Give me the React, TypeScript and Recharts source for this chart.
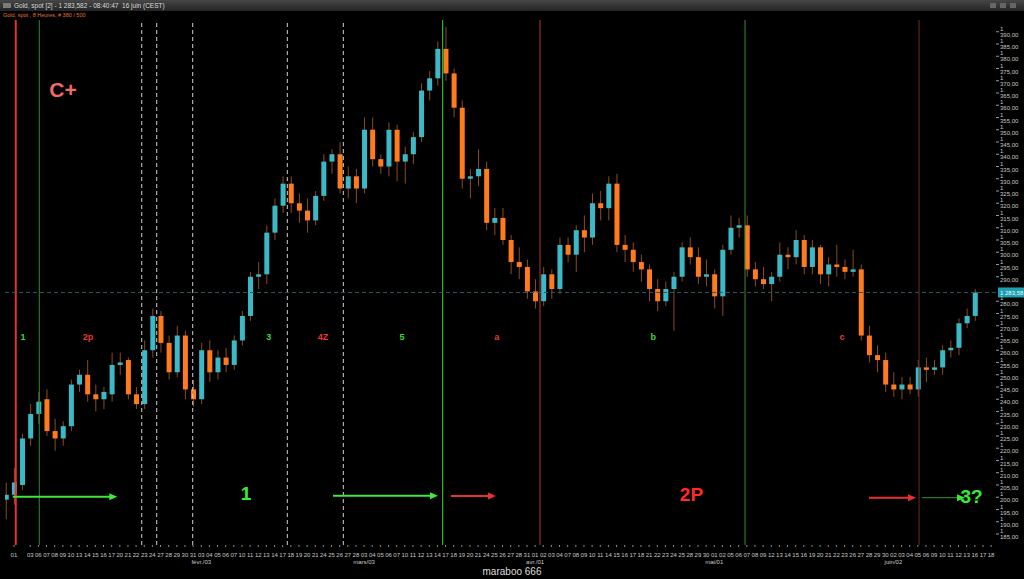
import { Bar, ComposedChart, ReferenceDot, ReferenceLine, XAxis, YAxis } from "recharts";

const FONT = "'Liberation Sans', Arial, sans-serif";
const UP = "#3cb9c6";
const DOWN = "#ff7b1c";
const WICK = "#8c4b1f";
const BODY = 5;

// one label per trading day, index 0 = 31 déc.
const DAYS = [
  "31",
  "01", "02", "03", "06", "07", "08", "09", "10", "13", "14", "15", "16", "17", "20", "21", "22", "23", "24", "27", "28", "29", "30", "31",
  "03", "04", "05", "06", "07", "10", "11", "12", "13", "14", "17", "18", "19", "20", "21", "24", "25", "26", "27", "28",
  "03", "04", "05", "06", "07", "10", "11", "12", "13", "14", "17", "18", "19", "20", "21", "24", "25", "26", "27", "28", "31",
  "01", "02", "03", "04", "07", "08", "09", "10", "11", "14", "15", "16", "17", "18", "21", "22", "23", "24", "25", "28", "29", "30",
  "01", "02", "05", "06", "07", "08", "09", "12", "13", "14", "15", "16", "19", "20", "21", "22", "23", "26", "27", "28", "29", "30",
  "02", "03", "04", "05", "06", "09", "10", "11", "12", "13", "16", "17", "18",
];
const MONTH_AT = [24, 44, 65, 87, 109];
const MONTH_NAMES = ["févr./03", "mars/03", "avr./01", "mai/01", "juin/02"];

const OPEN = [
  1199, 1201, 1205, 1224, 1234, 1240, 1227, 1224, 1229, 1246,
  1250, 1242, 1240, 1242, 1254, 1256, 1242, 1238, 1260, 1274,
  1263, 1251, 1266, 1244, 1240, 1260, 1251, 1257, 1254, 1264,
  1274, 1290, 1291, 1308, 1319, 1328, 1320, 1317, 1313, 1323,
  1337, 1340, 1326, 1331, 1326, 1350, 1338, 1335, 1350, 1337,
  1340, 1347, 1366, 1371, 1383, 1373, 1359, 1330, 1331, 1334,
  1312, 1314, 1305, 1296, 1294, 1284, 1280, 1291, 1285, 1303,
  1299, 1309, 1306, 1320, 1318, 1328, 1303, 1301, 1296, 1293,
  1285, 1280, 1285, 1290, 1302, 1298, 1290, 1291, 1282, 1301,
  1310, 1311, 1293, 1289, 1287, 1290, 1299, 1298, 1305, 1294,
  1302, 1291, 1295, 1294, 1292, 1293, 1266, 1258, 1256, 1246,
  1244, 1246, 1244, 1253, 1252, 1253, 1260, 1261, 1271, 1274,
];
const HIGH = [
  1206, 1212, 1226, 1238, 1243, 1244, 1232, 1231, 1248, 1252,
  1256, 1246, 1245, 1259, 1259, 1257, 1245, 1264, 1277, 1276,
  1266, 1270, 1268, 1248, 1263, 1264, 1260, 1261, 1266, 1276,
  1292, 1296, 1311, 1322, 1331, 1331, 1324, 1322, 1325, 1340,
  1342, 1345, 1335, 1334, 1355, 1355, 1340, 1353, 1352, 1343,
  1349, 1369, 1374, 1386, 1392, 1375, 1362, 1334, 1342, 1337,
  1318, 1318, 1307, 1302, 1297, 1289, 1294, 1293, 1306, 1306,
  1311, 1315, 1324, 1325, 1331, 1332, 1307, 1304, 1299, 1295,
  1289, 1288, 1292, 1304, 1306, 1302, 1297, 1293, 1303, 1315,
  1314, 1315, 1296, 1294, 1292, 1304, 1302, 1309, 1307, 1305,
  1303, 1298, 1303, 1297, 1301, 1295, 1270, 1262, 1259, 1251,
  1249, 1249, 1256, 1257, 1256, 1262, 1264, 1273, 1277, 1285,
];
const LOW = [
  1191, 1197, 1203, 1221, 1230, 1225, 1219, 1221, 1227, 1243,
  1239, 1235, 1236, 1239, 1250, 1240, 1236, 1236, 1257, 1259,
  1248, 1249, 1240, 1237, 1238, 1247, 1248, 1251, 1252, 1262,
  1272, 1285, 1287, 1305, 1316, 1316, 1312, 1308, 1311, 1321,
  1332, 1324, 1322, 1320, 1324, 1335, 1332, 1331, 1329, 1328,
  1336, 1345, 1362, 1368, 1370, 1355, 1326, 1322, 1327, 1309,
  1307, 1303, 1291, 1289, 1281, 1277, 1278, 1281, 1283, 1296,
  1292, 1300, 1303, 1313, 1313, 1300, 1296, 1292, 1288, 1280,
  1276, 1278, 1268, 1288, 1295, 1287, 1286, 1277, 1274, 1299,
  1306, 1290, 1286, 1285, 1280, 1288, 1293, 1295, 1291, 1291,
  1287, 1286, 1290, 1289, 1290, 1264, 1255, 1251, 1243, 1241,
  1240, 1242, 1241, 1247, 1250, 1250, 1257, 1258, 1269, 1272,
];
const CLOSE = [
  1201, 1206, 1224, 1234, 1239, 1227, 1224, 1229, 1246, 1250,
  1242, 1240, 1243, 1254, 1255, 1242, 1238, 1260, 1274, 1263,
  1251, 1266, 1244, 1240, 1260, 1251, 1257, 1254, 1264, 1274,
  1290, 1291, 1308, 1319, 1328, 1320, 1317, 1313, 1323, 1337,
  1340, 1326, 1331, 1326, 1350, 1338, 1335, 1350, 1337, 1340,
  1347, 1366, 1371, 1383, 1373, 1359, 1330, 1331, 1334, 1312,
  1314, 1305, 1296, 1294, 1284, 1280, 1291, 1285, 1303, 1299,
  1309, 1306, 1320, 1318, 1328, 1303, 1301, 1296, 1293, 1285,
  1280, 1285, 1290, 1302, 1298, 1290, 1291, 1282, 1301, 1310,
  1311, 1293, 1289, 1287, 1290, 1299, 1298, 1305, 1294, 1302,
  1291, 1295, 1294, 1292, 1293, 1266, 1258, 1256, 1246, 1244,
  1246, 1244, 1253, 1252, 1253, 1260, 1261, 1271, 1274, 1283.58,
];

const LAST = 1283.58;

// 1285 sits under the last-price tag, so it is not drawn
const Y_TICKS = [
  1185, 1190, 1195, 1200, 1205, 1210, 1215, 1220, 1225, 1230, 1235, 1240, 1245, 1250,
  1255, 1260, 1265, 1270, 1275, 1280, 1290, 1295, 1300, 1305, 1310, 1315, 1320,
  1325, 1330, 1335, 1340, 1345, 1350, 1355, 1360, 1365, 1370, 1375, 1380, 1385, 1390,
];

// vertical markers, in day-index units
const MARKERS = [
  { x: 1.22, color: "#e53232", width: 2, dash: undefined },
  { x: 4.11, color: "#2f8a36", width: 1, dash: undefined },
  { x: 16.69, color: "#cfcfcf", width: 1, dash: "4 3" },
  { x: 18.53, color: "#cfcfcf", width: 1, dash: "4 3" },
  { x: 22.95, color: "#cfcfcf", width: 1, dash: "4 3" },
  { x: 34.57, color: "#cfcfcf", width: 1, dash: "4 3" },
  { x: 41.45, color: "#cfcfcf", width: 1, dash: "4 3" },
  { x: 53.65, color: "#2ee02e", width: 1, dash: undefined },
  { x: 65.6, color: "#b8342c", width: 1, dash: undefined },
  { x: 90.78, color: "#3c8c34", width: 1, dash: undefined },
  { x: 112.15, color: "#6e2a26", width: 1, dash: undefined },
];

const LABELS = [
  { text: "C+", x: 7.02, y: 1366.4, color: "#f26a66", size: 21 },
  { text: "1", x: 2.11, y: 1265.5, color: "#3ad83a", size: 9 },
  { text: "2p", x: 10.1, y: 1265.2, color: "#e83838", size: 9 },
  { text: "3", x: 32.3, y: 1265.4, color: "#3ad83a", size: 9 },
  { text: "4Z", x: 38.95, y: 1265.6, color: "#e83838", size: 9 },
  { text: "5", x: 48.65, y: 1265.4, color: "#3ad83a", size: 9 },
  { text: "a", x: 60.3, y: 1265.2, color: "#e83838", size: 9 },
  { text: "b", x: 79.5, y: 1265.2, color: "#3ad83a", size: 9 },
  { text: "c", x: 102.7, y: 1265.2, color: "#e83838", size: 9 },
  { text: "1", x: 29.5, y: 1201.5, color: "#33ee33", size: 19 },
  { text: "2P", x: 84.2, y: 1201.3, color: "#ff2a2a", size: 19 },
  { text: "3?", x: 118.6, y: 1200.1, color: "#33ee33", size: 19 },
];

const ARROWS = [
  { from: 0.85, to: 13.69, y: 1200.2, color: "#3ee83e", head: "#3ee83e", width: 2 },
  { from: 40.18, to: 53.07, y: 1200.6, color: "#3ee83e", head: "#3ee83e", width: 2 },
  { from: 54.68, to: 60.2, y: 1200.5, color: "#e83232", head: "#e83232", width: 2 },
  { from: 106.0, to: 111.78, y: 1199.8, color: "#e83232", head: "#e83232", width: 2 },
  { from: 112.5, to: 117.8, y: 1199.8, color: "#2e9a2e", head: "#3ee83e", width: 1 },
];

const X_TICKS = DAYS.map((_, i) => i).filter((i) => i > 0 && i !== 2);

const data = OPEN.map((o, i) => ({
  i,
  open: o,
  high: HIGH[i],
  low: LOW[i],
  close: CLOSE[i],
}));

const fmtPrice = (v: number) =>
  `${Math.floor(v / 1000)} ${String(Math.floor(v % 1000)).padStart(3, "0")},${(v % 1)
    .toFixed(2)
    .slice(2)}`;

function Candle(props: any) {
  const { x, y, width, height, payload } = props;
  if (!payload || payload.open == null || !isFinite(y) || !isFinite(height)) return null;
  const top = Math.min(y, y + height);
  const h = Math.abs(height);
  const span = payload.high - payload.low || 1;
  const k = h / span;
  const cx = x + width / 2;
  const yo = top + (payload.high - payload.open) * k;
  const yc = top + (payload.high - payload.close) * k;
  const up = payload.close >= payload.open;
  return (
    <g>
      <line x1={cx} x2={cx} y1={top} y2={top + h} stroke={WICK} strokeWidth={1} />
      <rect
        x={cx - BODY / 2}
        y={Math.min(yo, yc)}
        width={BODY}
        height={Math.max(1, Math.abs(yc - yo))}
        fill={up ? UP : DOWN}
      />
    </g>
  );
}

function DayTick(props: any) {
  const { x, y, payload } = props;
  const i = payload.value;
  const m = MONTH_AT.indexOf(i);
  return (
    <g>
      <text x={x} y={y + 8} textAnchor="middle" fontSize={6} fill="#c8c8c8" fontFamily={FONT}>
        {DAYS[i]}
      </text>
      {m >= 0 && (
        <text x={x} y={y + 14.5} textAnchor="middle" fontSize={6} fill="#c8c8c8" fontFamily={FONT}>
          {MONTH_NAMES[m]}
        </text>
      )}
    </g>
  );
}

const textShape = (t: (typeof LABELS)[number]) => (p: any) => (
  <text
    x={p.cx}
    y={p.cy}
    fill={t.color}
    fontSize={t.size}
    fontWeight="bold"
    fontFamily={FONT}
    textAnchor="middle"
    dominantBaseline="central"
  >
    {t.text}
  </text>
);

const arrowShape = (a: (typeof ARROWS)[number]) => (p: any) => {
  const { x1, y1, x2, y2 } = p;
  return (
    <g>
      <line x1={x1} y1={y1} x2={x2 - 6} y2={y2} stroke={a.color} strokeWidth={a.width} />
      <polygon points={`${x2},${y2} ${x2 - 8},${y2 - 3.5} ${x2 - 8},${y2 + 3.5}`} fill={a.head} />
    </g>
  );
};

const priceTag = (p: any) => (
  <g>
    <rect x={p.cx + 2} y={p.cy - 5} width={27} height={10} fill="#1f9fb1" />
    <text x={p.cx + 4} y={p.cy + 2.2} fontSize={6} fill="#e6ffff" fontFamily={FONT}>
      {fmtPrice(LAST)}
    </text>
  </g>
);

export default function App() {
  return (
    <div
      style={{
        position: "absolute",
        left: 0,
        top: 0,
        width: 1024,
        height: 579,
        background: "#000",
        overflow: "hidden",
        fontFamily: FONT,
      }}
    >
      <div style={{ position: "absolute", left: 0, top: 0 }}>
        <ComposedChart
          width={1024}
          height={579}
          data={data}
          margin={{ top: 20, right: 0, bottom: 13, left: 5 }}
        >
          <XAxis
            type="number"
            dataKey="i"
            domain={[-0.1, 121.6]}
            allowDataOverflow
            ticks={X_TICKS}
            interval={0}
            tick={<DayTick />}
            tickLine={{ stroke: "#8a8a8a" }}
            tickSize={2}
            axisLine={false}
            height={21}
          />
          <YAxis
            orientation="right"
            domain={[1180.5, 1394.8]}
            allowDataOverflow
            ticks={Y_TICKS}
            interval={0}
            width={28}
            tickSize={3}
            tickMargin={1}
            tickLine={{ stroke: "#9a9a9a" }}
            axisLine={false}
            tick={{ fill: "#c8c8c8", fontSize: 6, fontFamily: FONT }}
            tickFormatter={fmtPrice}
          />
          {MARKERS.map((m, k) => (
            <ReferenceLine
              key={`m${k}`}
              x={m.x}
              stroke={m.color}
              strokeWidth={m.width}
              strokeDasharray={m.dash}
            />
          ))}
          <ReferenceLine y={LAST} stroke="#2c5763" strokeDasharray="4 3" />
          <Bar
            dataKey={(d: any) => [d.low, d.high]}
            barSize={BODY}
            shape={(p: any) => <Candle {...p} />}
            isAnimationActive={false}
          />
          {ARROWS.map((a, k) => (
            <ReferenceLine
              key={`a${k}`}
              segment={[
                { x: a.from, y: a.y },
                { x: a.to, y: a.y },
              ]}
              shape={arrowShape(a)}
            />
          ))}
          {LABELS.map((t, k) => (
            <ReferenceDot key={`t${k}`} x={t.x} y={t.y} r={0} shape={textShape(t)} />
          ))}
          <ReferenceDot x={121.6} y={LAST} r={0} ifOverflow="visible" shape={priceTag} />
        </ComposedChart>
      </div>

      <div
        style={{
          position: "absolute",
          left: 0,
          top: 0,
          width: 1024,
          height: 11,
          background: "linear-gradient(#474747, #242424)",
        }}
      />
      <div style={{ position: "absolute", left: 3, top: 3, width: 8, height: 5, background: "#7a7a7a" }} />
      <div
        style={{
          position: "absolute",
          left: 14,
          top: 1,
          fontSize: 6.5,
          lineHeight: "9px",
          color: "#d8d8d8",
          whiteSpace: "pre",
        }}
      >
        Gold, spot [2] - 1 283,582 - 08:40:47  16 juin (CEST)
      </div>
      <div style={{ position: "absolute", left: 990, top: 3, width: 6, height: 5, background: "#666" }} />
      <div style={{ position: "absolute", left: 1000, top: 3, width: 6, height: 5, background: "#666" }} />
      <div style={{ position: "absolute", left: 1010, top: 3, width: 6, height: 5, background: "#666" }} />
      <div
        style={{
          position: "absolute",
          left: 3,
          top: 12,
          fontSize: 5.5,
          lineHeight: "7px",
          color: "#e0732a",
          whiteSpace: "pre",
        }}
      >
        Gold, spot , 8 Heures, # 380 / 500
      </div>
      <div
        style={{
          position: "absolute",
          left: 452,
          top: 566,
          width: 120,
          textAlign: "center",
          fontSize: 10,
          lineHeight: "12px",
          color: "#dcdcdc",
        }}
      >
        maraboo 666
      </div>
    </div>
  );
}
